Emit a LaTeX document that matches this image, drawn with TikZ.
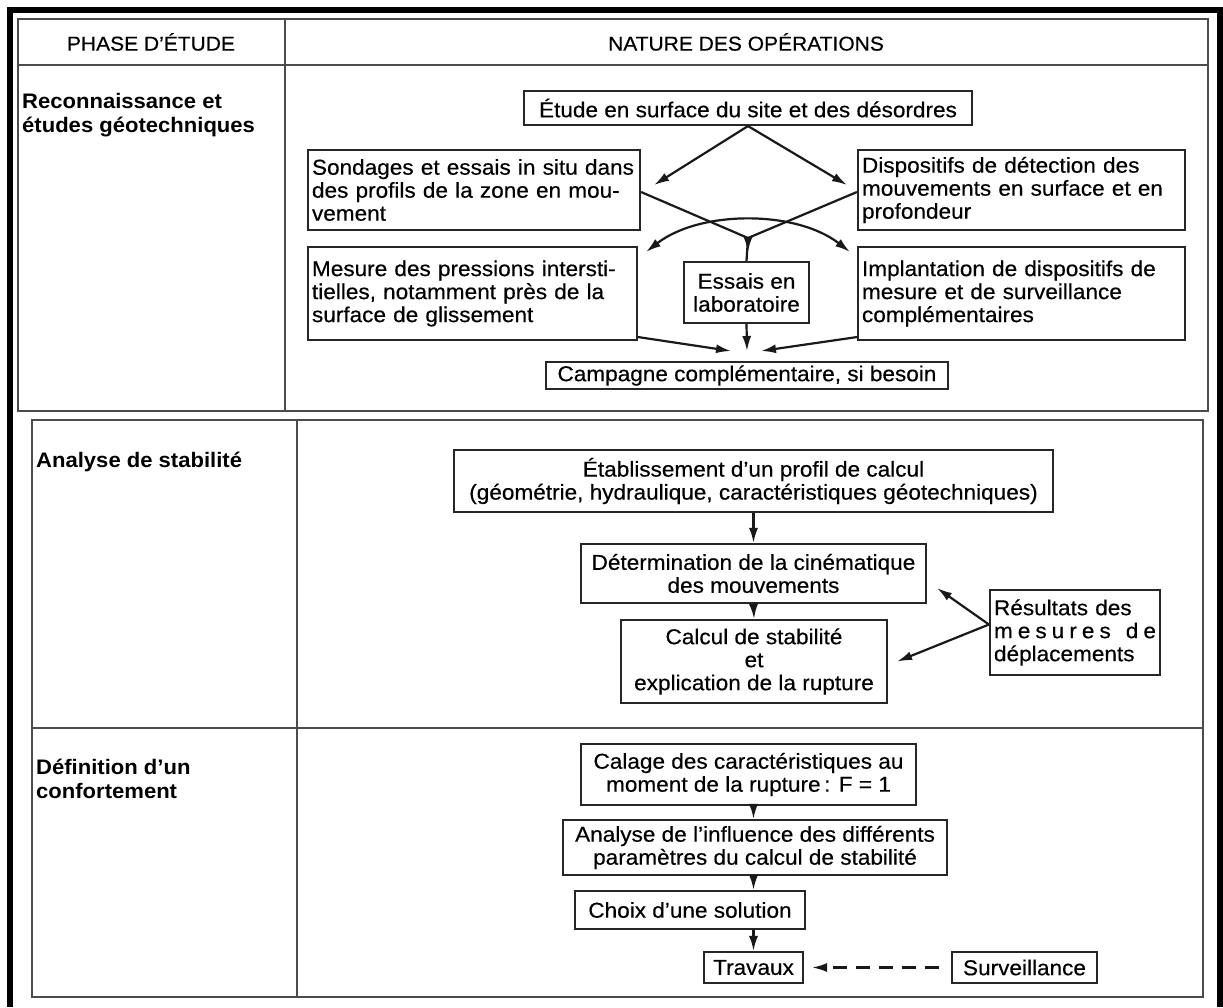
\documentclass[tikz,border=0pt]{standalone}
\usepackage{fontspec}
\setmainfont{Liberation Sans}[FakeStretch=1.05, UprightFeatures={FakeBold=0.4}]
\usetikzlibrary{arrows.meta}
\newcommand\fsz{\fontsize{21.5}{23}\selectfont}
\newcommand\lsz{\fontsize{20}{23.5}\selectfont}
\newcommand\bsz{\fontsize{21}{24}\selectfont}
\newcommand\jl[1]{\makebox[\linewidth][s]{#1}}
\begin{document}
\begin{tikzpicture}[x=1pt,y=-1pt,
  box/.style={draw=black!85, line width=2.1pt, font=\fsz, inner xsep=4pt, inner ysep=3pt, align=center},
  jbox/.style={box, align=left},
  rule/.style={draw=black!70, line width=1.9pt},
  lab/.style={font=\bsz\bfseries, anchor=north west, align=left, inner sep=0pt},
  hdr/.style={font=\lsz, inner sep=0pt},
  tip/.style={-{Latex[length=15pt,width=9pt]}},
  arr/.style={tip, line width=2.2pt, draw=black!90},
  ln/.style={line width=2.2pt, draw=black!90},
]
\useasboundingbox (0,0) rectangle (1223,1007);
\fill[white] (0,0) rectangle (1223,1007);
% black frame (scan border)
\fill[black] (7,7) rectangle (1223,13);
\fill[black] (7,7) rectangle (13,1007);
\fill[black] (1217,7) rectangle (1223,1007);

% ---------- table 1 ----------
\draw[rule] (18,19) rectangle (1208,411);
\draw[rule] (18,65) -- (1208,65);
\draw[rule] (285,19) -- (285,411);
\node[hdr] (h1) at (151,42) {PHASE D'ÉTUDE};
\node[hdr] (h2) at (746,42) {NATURE DES OPÉRATIONS};
\node[lab] (l1) at (22,93) {Reconnaissance et\\études géotechniques};

\node[box, minimum width=448, minimum height=34] (etude) at (748,108)
  {Étude en surface du site et des désordres};
\node[jbox, text width=324, minimum height=80] (sond) at (474,190)
  {\jl{Sondages et essais in situ dans}\\\jl{des profils de la zone en mou-}\\vement};
\node[jbox, text width=319, minimum height=80] (disp) at (1021.5,190)
  {\jl{Dispositifs de détection des}\\\jl{mouvements en surface et en}\\profondeur};
\node[jbox, text width=321, minimum height=93] (mes) at (472.5,293.5)
  {\jl{Mesure des pressions intersti-}\\\jl{tielles, notamment près de la}\\surface de glissement};
\node[box, minimum width=125, minimum height=61] (ess) at (746.5,292.5)
  {Essais en\\laboratoire};
\node[jbox, text width=319, minimum height=93] (imp) at (1021.5,293.5)
  {\jl{Implantation de dispositifs de}\\\jl{mesure et de surveillance}\\complémentaires};
\node[box, minimum width=402, minimum height=27] (camp) at (747,375.5)
  {Campagne complémentaire, si besoin};

\draw[arr] (etude.south) -- ([xshift=13pt,yshift=5pt]sond.east);
\draw[arr] (etude.south) -- ([xshift=-10pt,yshift=5pt]disp.west);
\coordinate (vj) at (748,238);
\draw[ln] ([yshift=-2pt]sond.east) -- (vj) -- ([yshift=-2pt]disp.west);
\draw[arr] (vj) -- ++(0,14);
\draw[ln] (vj) -- (ess.north);
\draw[ln, {Latex[length=15pt,width=9pt]}-{Latex[length=15pt,width=9pt]}]
  ([xshift=8pt,yshift=-6pt]mes.north east) .. controls (700,210) and (796,210) .. ([xshift=-7pt,yshift=-6pt]imp.north west);
\coordinate (cj) at (747,351);
\draw[arr] ([yshift=4pt]mes.south east) -- ([xshift=-16pt]cj);
\draw[arr] (ess.south) -- (cj);
\draw[arr] ([yshift=4pt]imp.south west) -- ([xshift=14pt]cj);

% ---------- table 2 ----------
\draw[rule] (32,420) rectangle (1203,997);
\draw[rule] (32,728) -- (1203,728);
\draw[rule] (297,420) -- (297,997);
\node[lab] (l2) at (36,452) {Analyse de stabilité};
\node[lab] (l3) at (36,759) {Définition d'un\\confortement};

\node[box, minimum width=599, minimum height=62] (etab) at (753.5,481)
  {Établissement d'un profil de calcul\\(géométrie, hydraulique, caractéristiques géotechniques)};
\node[box, minimum width=345, minimum height=59] (det) at (753.5,573.5)
  {Détermination de la cinématique\\des mouvements};
\node[box, minimum width=266, minimum height=83] (calc) at (754,661.5)
  {Calcul de stabilité\\et\\explication de la rupture};
\node[jbox, text width=162, minimum height=85] (res) at (1075,632.5)
  {\jl{Résultats des}\\\jl{m\hfill e\hfill s\hfill u\hfill r\hfill e\hfill s\hfill\hfill\hfill d\hfill e}\\\jl{déplacements}};

\draw[arr] (etab.south) -- (det.north);
\draw[arr] (det.south) -- (calc.north);
\draw[arr] ([yshift=8pt]res.west) -- ([xshift=10pt,yshift=16pt]det.south east);
\draw[arr] ([yshift=8pt]res.west) -- ([xshift=9pt]calc.east);

\node[box, minimum width=335, minimum height=61] (cal) at (748.5,774.5)
  {Calage des caractéristiques au\\moment de la rupture\,: F = 1};
\node[box, minimum width=384, minimum height=55] (ana) at (755,847.5)
  {Analyse de l'influence des différents\\paramètres du calcul de stabilité};
\node[box, minimum width=230, minimum height=38] (cho) at (690,910)
  {Choix d'une solution};
\node[box, minimum width=99, minimum height=31] (tra) at (753.5,967.5) {Travaux};
\node[box, minimum width=145, minimum height=31] (sur) at (1024.5,967.5) {Surveillance};

\draw[arr] (cal.south -| tra) -- (ana.north -| tra);
\draw[arr] (ana.south -| tra) -- (cho.north -| tra);
\draw[arr] (cho.south -| tra) -- (tra.north);
\draw[arr, dash pattern=on 14pt off 9pt] ([xshift=-12pt]sur.west) -- ([xshift=8pt]tra.east);
\end{tikzpicture}
\end{document}
